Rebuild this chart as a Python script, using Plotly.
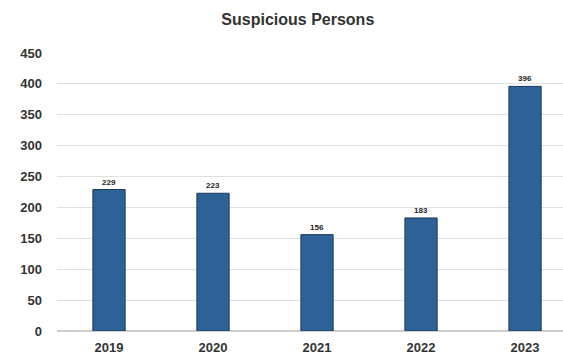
import plotly.graph_objects as go

years = ["2019", "2020", "2021", "2022", "2023"]
counts = [229, 223, 156, 183, 396]
y_ticks = [0, 50, 100, 150, 200, 250, 300, 350, 400, 450]

fig = go.Figure(go.Bar(
    x=years, y=counts,
    marker=dict(color="#2E6296", line=dict(color="#1B3A5A", width=1)),
    text=[str(c) for c in counts], textposition="outside",
    textfont=dict(size=8, color="#222222", family="Liberation Sans", weight="bold"),
    cliponaxis=False, width=0.31,
))

fig.update_layout(
    width=563, height=358,
    margin=dict(l=57, r=0, t=53, b=27),
    paper_bgcolor="white", plot_bgcolor="white",
    font=dict(family="Liberation Sans", color="#333333"),
    title=dict(text="Suspicious Persons", x=0.529, xanchor="center", y=0.945, yanchor="middle",
               font=dict(size=16, color="#333333", family="Liberation Sans Narrow, Liberation Sans",
                         weight="bold")),
    showlegend=False,
)
fig.update_xaxes(type="category", range=[-0.5, 4.365], showgrid=False, showline=False, automargin=False,
                 tickfont=dict(size=13, color="#333333", weight="bold"), ticklabelstandoff=7, ticks="")
fig.update_yaxes(range=[0, 450], tickvals=y_ticks, showgrid=True, gridcolor="#E0E0E0", gridwidth=1,
                 zeroline=True, zerolinecolor="#D0D0D0", showline=False, automargin=False,
                 tickfont=dict(size=13, color="#333333", weight="bold"), ticklabelstandoff=14)

fig.write_html("out.html", config={"displayModeBar": False},
               post_script="document.body.style.margin='0';")
